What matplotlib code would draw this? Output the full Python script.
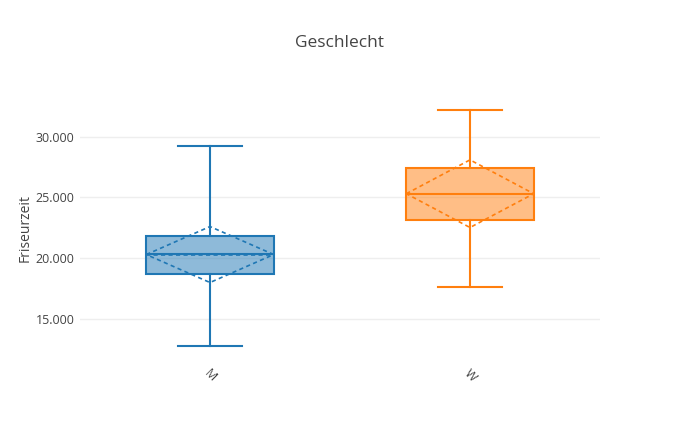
import matplotlib
matplotlib.use("Agg")
import matplotlib.pyplot as plt
from matplotlib.colors import to_rgba
from matplotlib.ticker import FuncFormatter

plt.rcParams['font.family'] = ['Open Sans', 'DejaVu Sans']

categories = ["M", "W"]
colors = ["#1f77b4", "#ff7f0e"]
whisker_low = [12780, 17600]
q1 = [18710, 23100]
median = [20330, 25310]
q3 = [21800, 27420]
whisker_high = [29240, 32180]
mean = [20300, 25300]
sd = [2300, 2780]
yticks = [15000, 20000, 25000, 30000]

W, H = 680, 437
fig = plt.figure(figsize=(W / 100, H / 100), dpi=100)
ax = fig.add_axes([80 / W, 1 - 357 / H, 520 / W, 257 / H])

text_color = "#444444"
box_w = 0.49
positions = list(range(len(categories)))

for i, c in enumerate(colors):
    stats = [dict(med=median[i], q1=q1[i], q3=q3[i], whislo=whisker_low[i],
                  whishi=whisker_high[i], fliers=[])]
    res = ax.bxp(stats, positions=[positions[i]], widths=box_w, patch_artist=True,
                 showfliers=False,
                 boxprops=dict(facecolor=to_rgba(c, 0.5), edgecolor=c, linewidth=1.5),
                 medianprops=dict(color=c, linewidth=1.5),
                 whiskerprops=dict(color=c, linewidth=1.5),
                 capprops=dict(color=c, linewidth=1.5),
                 capwidths=box_w / 2)
    for b in res["boxes"]:
        b.set_facecolor(to_rgba(c, 0.5))
        b.set_edgecolor(c)
        b.set_zorder(3)
    x0 = positions[i] - box_w / 2
    x1 = positions[i] + box_w / 2
    xc = positions[i]
    ax.plot([x0, xc, x1, xc, x0], [mean[i], mean[i] + sd[i], mean[i], mean[i] - sd[i], mean[i]],
            color=c, linestyle=(0, (2.5, 2)), linewidth=1.2, zorder=6)
    ax.plot([x0, x1], [mean[i], mean[i]], color=c, linestyle=(0, (2.5, 2)), linewidth=1.2, zorder=6)

ax.set_xlim(-0.5, 1.5)
ax.set_ylim(11880, 33000)
ax.set_xticks(positions)
ax.set_xticklabels(categories, rotation=-45, ha="center", va="top",
                   color=text_color, fontsize=9)
ax.set_yticks(yticks)
ax.yaxis.set_major_formatter(FuncFormatter(lambda v, p: f"{int(v):,}".replace(",", ".")))
ax.tick_params(axis="y", length=0, pad=4, labelcolor=text_color, labelsize=9)
ax.tick_params(axis="x", length=0, pad=7)
ax.grid(axis="y", color="#eeeeee", linewidth=1)
ax.set_axisbelow(True)
for s in ax.spines.values():
    s.set_visible(False)

ax.set_ylabel("Friseurzeit", color=text_color, fontsize=10, labelpad=2)
fig.text(340 / W, 1 - 43 / H, "Geschlecht", ha="center", va="center",
         color=text_color, fontsize=12.5)

fig.savefig("out.png", dpi=100, facecolor="white")
